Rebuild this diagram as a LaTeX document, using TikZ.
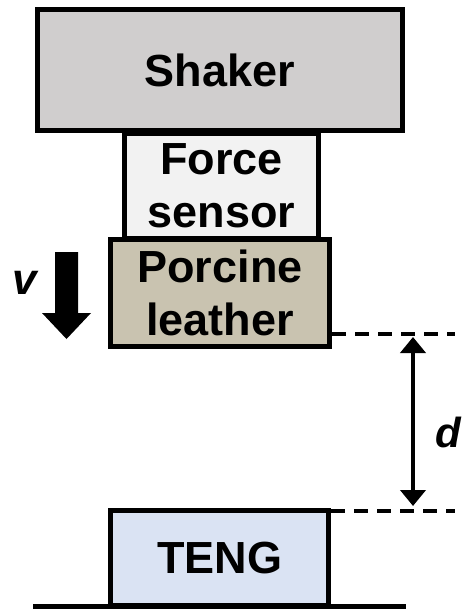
\documentclass[tikz,border=0pt]{standalone}
\usepackage{fontspec}
\setmainfont{Liberation Sans}
\usetikzlibrary{arrows.meta}
\definecolor{shakerc}{HTML}{D0CECE}
\definecolor{sensorc}{HTML}{F2F2F2}
\definecolor{leatherc}{HTML}{C9C3B0}
\definecolor{tengc}{HTML}{DAE3F3}
\tikzset{
  blockbox/.style={draw=black, line width=5pt, inner sep=0pt, align=center,
    font=\fontsize{45}{53}\selectfont\bfseries},
  dashline/.style={line width=4.5pt, dash pattern=on 14pt off 9pt},
}
\begin{document}
\begin{tikzpicture}[x=1pt,y=-1pt]
\useasboundingbox (0,0) rectangle (464,609);
\node[blockbox, fill=sensorc, minimum width=194pt, minimum height=105pt] (sensor) at (221.5,186) {Force\\sensor};
\node[blockbox, fill=shakerc, minimum width=365pt, minimum height=121pt] (shaker) at (220,70) {Shaker};
\node[blockbox, fill=leatherc, minimum width=219pt, minimum height=107pt] (leather) at (220,293) {Porcine\\leather};
\node[blockbox, fill=tengc, minimum width=218pt, minimum height=95pt] (teng) at (219.5,558) {TENG};
\coordinate (g1) at (33,606);
\coordinate (g2) at (406,606);
\draw[line width=5pt] (g1) -- (g2);
% dashed reference lines
\coordinate (t1) at (332,334);
\coordinate (t2) at (455,334);
\coordinate (b1) at (331,511);
\coordinate (b2) at (455,511);
\draw[dashline] (t1) -- (t2);
\draw[dashline] (b1) -- (b2);
\coordinate (dt) at (413,334);
\coordinate (db) at (413,511);
\draw[line width=4pt, {Triangle[width=25pt,length=16pt]}-{Triangle[width=25pt,length=16pt]}, shorten <=3pt, shorten >=5pt] (dt) -- (db);
\node[font=\fontsize{42}{48}\selectfont\bfseries\itshape] (dlabel) at (448,432) {d};
% velocity arrow
\fill[black] (55,252) -- (78,252) -- (78,313) -- (91,313) -- (66.5,339) -- (42,313) -- (55,313) -- cycle;
\node[font=\fontsize{44}{48}\selectfont\bfseries\itshape] (vlabel) at (25,283) {v};
\end{tikzpicture}
\end{document}
